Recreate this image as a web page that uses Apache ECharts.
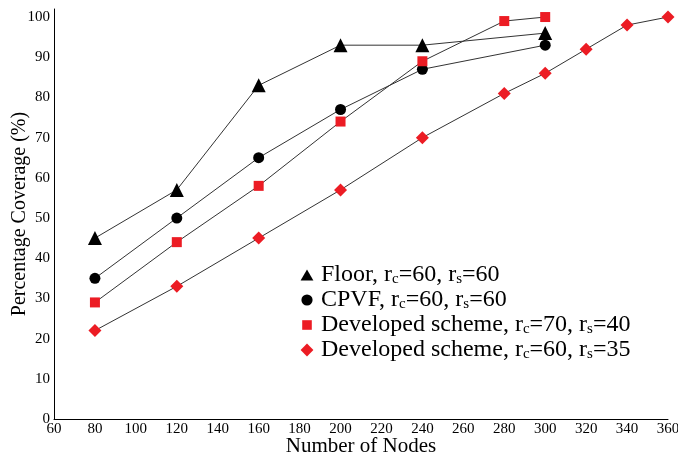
<!DOCTYPE html>
<html>
<head>
<meta charset="utf-8">
<script src="https://cdn.jsdelivr.net/npm/echarts@6/dist/echarts.min.js"></script>
<style>
  html, body { margin: 0; padding: 0; background: #fff; }
  #chart { width: 678px; height: 456px; }
</style>
</head>
<body>
<div id="chart"></div>
<script>
// data
var floorX = [80, 120, 160, 200, 240, 300];
var floorY = [45, 57, 83, 93, 93, 96];
var cpvfX = [80, 120, 160, 200, 240, 300];
var cpvfY = [35, 50, 65, 77, 87, 93];
var dev7040X = [80, 120, 160, 200, 240, 280, 300];
var dev7040Y = [29, 44, 58, 74, 89, 99, 100];
var dev6035X = [80, 120, 160, 200, 240, 280, 300, 320, 340, 360];
var dev6035Y = [22, 33, 45, 57, 70, 81, 86, 92, 98, 100];

// legend labels with subscripts
var legendText = {
    'Floor': '{a|Floor, r}{s|c}{a|=60, r}{s|s}{a|=60}',
    'CPVF': '{a|CPVF, r}{s|c}{a|=60, r}{s|s}{a|=60}',
    'Dev7040': '{a|Developed scheme, r}{s|c}{a|=70, r}{s|s}{a|=40}',
    'Dev6035': '{a|Developed scheme, r}{s|c}{a|=60, r}{s|s}{a|=35}'
};

var font = '"Liberation Serif", "DejaVu Serif", serif';
var red = '#ec1c24';

function pairs(xs, ys) {
    var out = [];
    for (var i = 0; i < xs.length; i++) out.push([xs[i], ys[i]]);
    return out;
}

function makeSeries(name, xs, ys, symbol, size, color) {
    return {
        name: name,
        type: 'line',
        data: pairs(xs, ys),
        symbol: symbol,
        symbolSize: size,
        showAllSymbol: true,
        itemStyle: { color: color },
        lineStyle: { color: '#333', width: 1 },
        z: 3,
        animation: false
    };
}

var myChart = echarts.init(document.getElementById('chart'));
var option = {
    backgroundColor: '#fff',
    animation: false,
    grid: { left: 54, right: 10, top: 9, bottom: 37, outerBoundsMode: 'none', containLabel: false },
    legend: {
        orient: 'vertical',
        left: 294,
        top: 258,
        itemWidth: 18,
        itemHeight: 16,
        itemGap: 1,
        data: [
            { name: 'Floor', icon: 'path://M0,0M20,20M2,17L10,3L18,17Z' },
            { name: 'CPVF', icon: 'path://M0,0M20,20M3,10A7,7,0,1,1,17,10A7,7,0,1,1,3,10Z' },
            { name: 'Dev7040', icon: 'path://M0,0M20,20M4,4L16,4L16,16L4,16Z' },
            { name: 'Dev6035', icon: 'path://M0,0M20,20M10,2L18,10L10,18L2,10Z' }
        ],
        formatter: function (n) { return legendText[n]; },
        textStyle: {
            fontFamily: font,
            color: '#000',
            rich: {
                a: { fontFamily: font, fontSize: 24, color: '#000', lineHeight: 24 },
                s: { fontFamily: font, fontSize: 15, color: '#000', verticalAlign: 'bottom', lineHeight: 24 }
            }
        }
    },
    xAxis: {
        type: 'value',
        min: 60,
        max: 360,
        interval: 20,
        name: 'Number of Nodes',
        nameLocation: 'middle',
        nameGap: 17,
        nameMoveOverlap: false,
        nameTextStyle: { fontFamily: font, fontSize: 21, color: '#000' },
        axisLine: { show: true, lineStyle: { color: '#000', width: 1 } },
        axisTick: { show: false },
        splitLine: { show: false },
        axisLabel: { fontFamily: font, fontSize: 15, color: '#000', margin: 3 }
    },
    yAxis: {
        type: 'value',
        min: 0,
        max: 102,
        interval: 10,
        name: 'Percentage Coverage (%)',
        nameLocation: 'middle',
        nameGap: 24,
        nameMoveOverlap: false,
        nameTextStyle: { fontFamily: font, fontSize: 20, color: '#000' },
        axisLine: { show: true, lineStyle: { color: '#000', width: 1 } },
        axisTick: { show: false },
        splitLine: { show: false },
        axisLabel: { fontFamily: font, fontSize: 15, color: '#000', margin: 4, showMaxLabel: false }
    },
    series: [
        makeSeries('Floor', floorX, floorY, 'triangle', 14, '#000'),
        makeSeries('CPVF', cpvfX, cpvfY, 'circle', 11, '#000'),
        makeSeries('Dev7040', dev7040X, dev7040Y, 'rect', 10, red),
        makeSeries('Dev6035', dev6035X, dev6035Y, 'diamond', 13, red)
    ]
};
myChart.setOption(option);
</script>
</body>
</html>
